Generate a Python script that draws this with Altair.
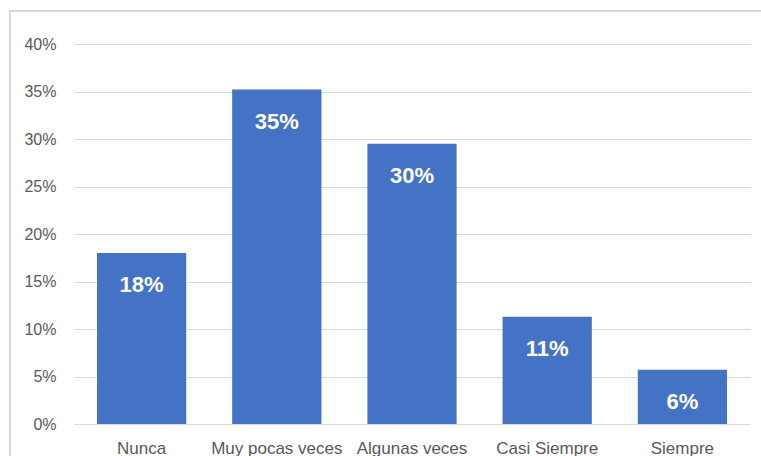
import altair as alt
import pandas as pd

categories = ["Nunca", "Muy pocas veces", "Algunas veces", "Casi Siempre", "Siempre"]
values = [0.18, 0.352, 0.295, 0.113, 0.057]
labels = ["18%", "35%", "30%", "11%", "6%"]

df = pd.DataFrame({"cat": categories, "val": values, "lab": labels})

FONT = "Liberation Sans"
GRAY = "#595959"

x = alt.X("cat:N", sort=categories, title=None,
          scale=alt.Scale(paddingInner=0.34, paddingOuter=0.17),
          axis=alt.Axis(labelAngle=0, labelFont=FONT, labelFontSize=17, labelColor=GRAY,
                        labelPadding=16, domain=False, ticks=False, grid=False))
y = alt.Y("val:Q", title=None,
          scale=alt.Scale(domain=[0, 0.4], nice=False),
          axis=alt.Axis(format=".0%", values=[0, 0.05, 0.1, 0.15, 0.2, 0.25, 0.3, 0.35, 0.4],
                        labelFont=FONT, labelFontSize=16, labelColor=GRAY, labelPadding=18,
                        domain=False, ticks=False, grid=True, gridColor="#d9d9d9", gridWidth=1))

border = alt.Chart(pd.DataFrame({"a": [0]})).mark_rect(
    fill=None, stroke="#d9d9d9", strokeWidth=2
).encode(x=alt.value(-64), x2=alt.value(720), y=alt.value(-33), y2=alt.value(450))

bars = alt.Chart(df).mark_bar(color="#4472C4").encode(x=x, y=y)

text = alt.Chart(df).mark_text(
    color="white", font=FONT, fontSize=22, fontWeight="bold", baseline="middle", dy=32
).encode(x=alt.X("cat:N", sort=categories), y="val:Q", text="lab:N")

chart = alt.layer(border, bars, text).properties(
    width=676, height=380,
    autosize=alt.AutoSizeParams(type="none"),
    padding={"left": 74, "top": 44, "right": 11, "bottom": 32},
).configure_view(stroke=None)

chart.save("out.html", embed_options={"renderer": "svg", "actions": False})
